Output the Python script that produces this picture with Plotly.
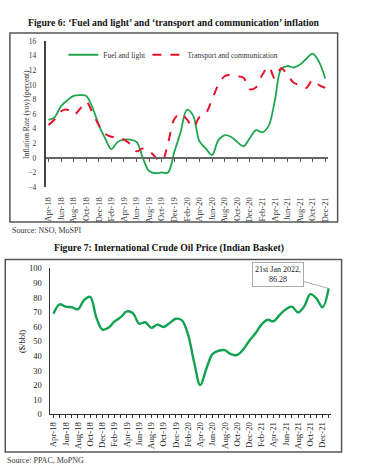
import plotly.graph_objects as go

# ---------------- data ----------------
months = ["Apr-18", "May-18", "Jun-18", "Jul-18", "Aug-18", "Sep-18", "Oct-18", "Nov-18", "Dec-18",
          "Jan-19", "Feb-19", "Mar-19", "Apr-19", "May-19", "Jun-19", "Jul-19", "Aug-19", "Sep-19",
          "Oct-19", "Nov-19", "Dec-19", "Jan-20", "Feb-20", "Mar-20", "Apr-20", "May-20", "Jun-20",
          "Jul-20", "Aug-20", "Sep-20", "Oct-20", "Nov-20", "Dec-20", "Jan-21", "Feb-21", "Mar-21",
          "Apr-21", "May-21", "Jun-21", "Jul-21", "Aug-21", "Sep-21", "Oct-21", "Nov-21", "Dec-21"]

fuel_light = [5.2, 5.6, 7.1, 7.9, 8.5, 8.6, 8.5, 6.9, 4.5, 2.7, 1.2, 2.2, 2.5, 2.5, 2.2, 0.0,
              -1.8, -2.1, -2.0, -2.0, 0.8, 3.5, 6.6, 5.8, 2.3, 1.3, 0.4, 2.4, 3.1, 2.9, 2.2, 1.6,
              2.7, 3.8, 3.5, 4.4, 7.9, 12.2, 12.6, 12.4, 12.8, 13.6, 14.3, 13.2, 10.9]

transport_comm = [4.5, 5.3, 6.4, 6.6, 5.9, 6.7, 7.7, 6.2, 4.5, 3.3, 2.9, 2.9, 2.5, 1.9, 0.9, 1.3,
                  1.0, 0.1, -0.5, 2.0, 5.3, 6.1, 5.3, 4.2, 5.6, 6.1, 8.0, 10.0, 11.2, 11.4, 11.2,
                  11.0, 9.4, 9.7, 11.4, 12.5, 10.9, 12.3, 11.4, 10.3, 10.0, 9.6, 10.7, 10.0, 9.6]

oil_months = months + ["Jan-22"]
oil_price = [68.9, 75.4, 73.8, 73.4, 72.0, 78.3, 80.5, 66.5, 58.1, 59.3, 63.7, 66.6, 70.5, 69.3,
             62.2, 63.1, 59.3, 61.5, 59.9, 62.6, 65.5, 64.4, 54.8, 35.8, 20.1, 31.3, 41.3, 43.6,
             44.0, 41.3, 40.7, 44.3, 50.3, 55.4, 61.5, 64.8, 63.8, 68.2, 72.0, 73.8, 69.8, 74.0,
             82.3, 79.4, 73.4, 86.28]

infl_ticks = [16, 14, 12, 10, 8, 6, 4, 2, 0, -2, -4]
oil_ticks = [100, 90, 80, 70, 60, 50, 40, 30, 20, 10, 0]

# ---------------- layout helpers ----------------
W, H = 370, 475
def px(x):
    return x / W
def py(y):
    return 1 - y / H

FONT = "Liberation Serif"

fig = go.Figure()

fig.add_trace(go.Scatter(
    x=months, y=fuel_light, name="Fuel and light", mode="lines", legend="legend",
    line=dict(color="#1fa64f", width=1.8, shape="spline", smoothing=1),
    xaxis="x", yaxis="y"))
fig.add_trace(go.Scatter(
    x=months, y=transport_comm, name="Transport and communication", mode="lines", legend="legend2",
    line=dict(color="#e8102a", width=2, dash="dash", shape="spline", smoothing=1),
    xaxis="x", yaxis="y"))

fig.add_trace(go.Scatter(
    x=oil_months, y=oil_price, name="Crude oil", mode="lines", showlegend=False,
    line=dict(color="#12a150", width=2.4, shape="spline", smoothing=1),
    xaxis="x2", yaxis="y2"))

oil_ticktext = [m if i % 2 == 0 and i < len(months) else "" for i, m in enumerate(oil_months)]

leg_common = dict(orientation="h", xanchor="left", yanchor="top",
                  font=dict(family=FONT, size=7.5, color="#333"), bgcolor="rgba(0,0,0,0)",
                  itemwidth=30, tracegroupgap=0)

fig.update_layout(
    width=W, height=H, autosize=False,
    margin=dict(l=0, r=0, t=0, b=0),
    paper_bgcolor="white", plot_bgcolor="white",
    font=dict(family=FONT, color="#222", size=8),
    showlegend=True,
    legend=dict(x=px(62), y=py(36), **leg_common),
    legend2=dict(x=px(147), y=py(36), **leg_common),
    xaxis=dict(domain=[px(44), px(329.3)], anchor="free", position=py(156.5),
               type="category", range=[-0.47, 44.4],
               tickmode="array", tickvals=months[::2], ticktext=months[::2],
               tickangle=-90, ticks="outside", ticklen=3, tickcolor="#555",
               showline=True, linecolor="#666", linewidth=1.5,
               showgrid=False, zeroline=False, ticklabelstandoff=32,
               tickfont=dict(family=FONT, size=8.5, color="#333")),
    yaxis=dict(domain=[py(186), py(37)], anchor="x", range=[-4, 16],
               tickmode="array", tickvals=infl_ticks, ticks="",
               showline=True, linecolor="#444", linewidth=1.5,
               showgrid=False, zeroline=False, ticklabelstandoff=6,
               tickfont=dict(family=FONT, size=7.5, color="#333")),
    xaxis2=dict(domain=[px(49), px(332.7)], anchor="y2", type="category", range=[-0.49, 45.4],
                tickmode="array", tickvals=oil_months, ticktext=oil_ticktext,
                tickangle=-90, ticks="outside", ticklen=3, tickcolor="#333",
                showline=True, linecolor="#333", linewidth=1,
                showgrid=False, zeroline=False,
                tickfont=dict(family=FONT, size=8.8, color="#222")),
    yaxis2=dict(domain=[py(418.3), py(269)], anchor="x2", range=[0, 100],
                tickmode="array", tickvals=oil_ticks, ticks="",
                showline=True, linecolor="#333", linewidth=1,
                showgrid=False, zeroline=False, ticklabelstandoff=6,
                tickfont=dict(family=FONT, size=8.5, color="#222")),
)

# frames around the two figures
fig.add_shape(type="rect", xref="paper", yref="paper", x0=px(8), x1=px(339.3), y0=py(221.7), y1=py(28.5),
              line=dict(color="#555", width=1.5), fillcolor="rgba(0,0,0,0)", layer="below")
fig.add_shape(type="rect", xref="paper", yref="paper", x0=px(3.3), x1=px(343.3), y0=py(456.7), y1=py(260),
              line=dict(color="#555", width=1.5), fillcolor="rgba(0,0,0,0)", layer="below")

ann = [
    dict(text="<b>Figure 6: ‘Fuel and light’ and ‘transport and communication’ inflation</b>",
         x=px(173.5), y=py(17.5), font=dict(size=9.7, color="#111")),
    dict(text="Source: NSO, MoSPI", x=px(8), y=py(230.5), xanchor="left", font=dict(size=8, color="#333")),
    dict(text="<b>Figure 7: International Crude Oil Price (Indian Basket)</b>",
         x=px(169), y=py(248), font=dict(size=9.7, color="#111")),
    dict(text="Source: PPAC, MoPNG", x=px(3), y=py(465.5), xanchor="left", font=dict(size=8, color="#333")),
    dict(text="Inflation Rate (yoy) (percent)", x=px(24), y=py(111.5), textangle=-90,
         font=dict(size=7.5, color="#333")),
    dict(text="($/bbl)", x=px(20), y=py(343.5), textangle=-90, font=dict(size=8.5, color="#222")),
]
for a in ann:
    base = dict(xref="paper", yref="paper", showarrow=False, xanchor="center", yanchor="middle")
    base.update(a)
    base["font"] = dict(family=FONT, **a["font"])
    fig.add_annotation(**base)

fig.add_annotation(
    x=oil_months[-1], y=oil_price[-1], xref="x2", yref="y2",
    text=f"21st Jan 2022,<br>{oil_price[-1]}",
    showarrow=True, arrowhead=0, arrowwidth=0.8, arrowcolor="#999",
    ax=-51, ay=-14, bgcolor="white", bordercolor="#aaa", borderwidth=1, borderpad=2,
    font=dict(family=FONT, size=8, color="#222"))

fig.write_html("out.html", config={"displayModeBar": False},
               post_script="document.body.style.margin='0';")
